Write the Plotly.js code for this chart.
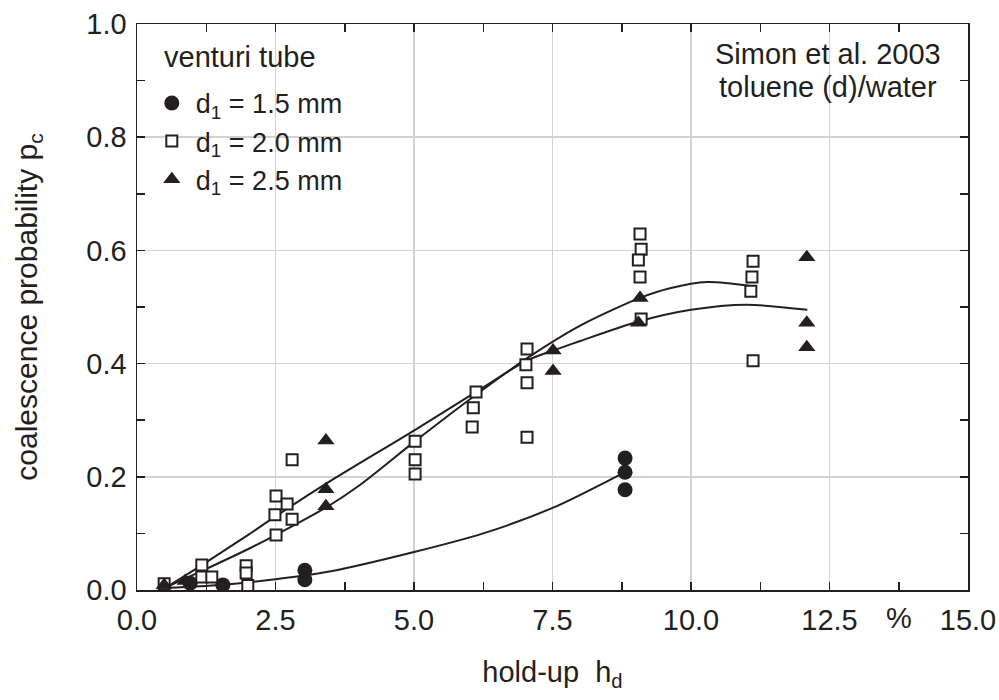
<!DOCTYPE html>
<html>
<head>
<meta charset="utf-8">
<script src="https://cdn.plot.ly/plotly-3.0.1.min.js"></script>
<style>html,body{margin:0;padding:0;background:#fff;}#chart{width:999px;height:700px;}</style>
</head>
<body>
<div id="chart"></div>
<script>
// ---- data ----
const circleX = [0.96, 1.55, 3.03, 3.03, 8.81, 8.81, 8.81];
const circleY = [0.012, 0.009, 0.035, 0.018, 0.233, 0.208, 0.177];

const squareX = [0.49, 1.17, 1.17, 1.35, 1.97, 1.97, 2.0, 2.51, 2.71, 2.49, 2.80, 2.51, 2.80,
                 5.02, 5.02, 5.02, 6.12, 6.07, 6.05, 7.04, 7.02, 7.04, 7.04,
                 9.08, 9.10, 9.05, 9.08, 9.10, 11.12, 11.10, 11.08, 11.12];
const squareY = [0.011, 0.044, 0.023, 0.023, 0.043, 0.030, 0.008, 0.166, 0.152, 0.133, 0.125, 0.097, 0.230,
                 0.263, 0.230, 0.205, 0.350, 0.322, 0.288, 0.426, 0.398, 0.366, 0.270,
                 0.629, 0.602, 0.583, 0.553, 0.479, 0.581, 0.553, 0.528, 0.405];

const triX = [0.49, 0.87, 3.41, 3.41, 3.41, 7.51, 7.51, 9.08, 9.05, 12.09, 12.09, 12.09];
const triY = [0.009, 0.016, 0.264, 0.178, 0.148, 0.423, 0.387, 0.516, 0.472, 0.588, 0.472, 0.429];

// fitted curves
const fit15X = [0.55, 1.5, 2.5, 3.5, 5.0, 6.25, 7.5, 8.8];
const fit15Y = [0.004, 0.009, 0.019, 0.033, 0.067, 0.100, 0.145, 0.208];

const fit20X = [0.55, 1.2, 2.0, 2.5, 3.45, 4.03, 5.02, 6.12, 7.05, 8.0, 9.08, 9.62, 10.29, 11.07];
const fit20Y = [0.006, 0.035, 0.072, 0.097, 0.148, 0.186, 0.263, 0.345, 0.410, 0.467, 0.516, 0.533, 0.544, 0.537];

const fit25X = [0.55, 1.17, 2.0, 2.5, 3.45, 5.02, 6.12, 7.05, 7.51, 8.0, 9.04, 10.0, 11.0, 12.1];
const fit25Y = [0.006, 0.044, 0.097, 0.130, 0.190, 0.283, 0.350, 0.406, 0.423, 0.440, 0.474, 0.495, 0.504, 0.495];

const xTickVals = [0, 2.5, 5, 7.5, 10, 12.5, 15];
const xTickText = ['0.0', '2.5', '5.0', '7.5', '10.0', '12.5', '15.0'];
const xMinorVals = [1.25, 3.75, 6.25, 8.75, 11.25, 13.75];
const yTickVals = [0, 0.2, 0.4, 0.6, 0.8, 1.0];
const yTickText = ['0.0', '0.2', '0.4', '0.6', '0.8', '1.0'];
const yMinorVals = [0.1, 0.3, 0.5, 0.7, 0.9];

const legendTitle = 'venturi tube';
const legendNames = ['d<sub>1</sub> = 1.5 mm', 'd<sub>1</sub> = 2.0 mm', 'd<sub>1</sub> = 2.5 mm'];

// ---- styling ----
const INK = '#231f20';
const FONT = 'Arial, "Liberation Sans", sans-serif';
const FS = 29;

const lineStyle = {color: INK, width: 2, shape: 'spline', smoothing: 0.8};
const traces = [
  {x: fit15X, y: fit15Y, mode: 'lines', line: lineStyle, showlegend: false, hoverinfo: 'skip'},
  {x: fit20X, y: fit20Y, mode: 'lines', line: lineStyle, showlegend: false, hoverinfo: 'skip'},
  {x: fit25X, y: fit25Y, mode: 'lines', line: lineStyle, showlegend: false, hoverinfo: 'skip'},
  {x: circleX, y: circleY, mode: 'markers', name: legendNames[0], legendgroup: 'a',
   marker: {symbol: 'circle', size: 15, color: INK, line: {width: 0}}},
  {x: squareX, y: squareY, mode: 'markers', name: legendNames[1], legendgroup: 'b',
   marker: {symbol: 'square', size: 11, color: '#ffffff', line: {color: INK, width: 2}}},
  {x: triX, y: triY, mode: 'markers', name: legendNames[2], legendgroup: 'c',
   marker: {symbol: 'triangle-up', size: 15, color: INK, line: {width: 0}}}
];

const axisCommon = {
  showline: true, linecolor: INK, linewidth: 1.5, mirror: 'ticks',
  ticks: 'inside', ticklen: 8, tickwidth: 1.5, tickcolor: INK,
  showgrid: true, gridcolor: '#d2d2d2', gridwidth: 1.5, zeroline: false,
  tickfont: {family: FONT, size: FS, color: INK}
};

const layout = {
  width: 999, height: 700,
  margin: {l: 137, r: 31, t: 24, b: 110},
  paper_bgcolor: '#ffffff', plot_bgcolor: '#ffffff',
  font: {family: FONT, size: FS, color: INK},
  xaxis: Object.assign({}, axisCommon, {
    range: [0, 15], tickmode: 'array', tickvals: xTickVals, ticktext: xTickText,
    ticklabelstandoff: 4,
    minor: {tickmode: 'array', tickvals: xMinorVals, ticks: 'inside', ticklen: 8, tickwidth: 1.5, tickcolor: INK, showgrid: false},
    title: {text: 'hold-up\u00a0\u00a0h<sub>d</sub>', font: {family: FONT, size: FS, color: INK}, standoff: 26}
  }),
  yaxis: Object.assign({}, axisCommon, {
    range: [0, 1], tickmode: 'array', tickvals: yTickVals, ticktext: yTickText,
    ticklabelstandoff: 3,
    minor: {tickmode: 'array', tickvals: yMinorVals, ticks: 'inside', ticklen: 8, tickwidth: 1.5, tickcolor: INK, showgrid: false},
    title: {text: 'coalescence probability p<sub>c</sub>', font: {family: FONT, size: 30, color: INK}, standoff: 40}
  }),
  shapes: [
    {type: 'rect', xref: 'paper', yref: 'paper', x0: 0, x1: 0.284, y0: 0.698, y1: 1,
     fillcolor: '#ffffff', line: {width: 0}, layer: 'between'},
    {type: 'rect', xref: 'paper', yref: 'paper', x0: 0.683, x1: 1, y0: 0.843, y1: 1,
     fillcolor: '#ffffff', line: {width: 0}, layer: 'between'}
  ],
  legend: {
    x: 0.013, y: 0.903, xanchor: 'left', yanchor: 'top',
    bgcolor: 'rgba(0,0,0,0)', borderwidth: 0,
    font: {family: FONT, size: 27, color: INK},
    traceorder: 'grouped', tracegroupgap: 0, itemsizing: 'trace', itemwidth: 38
  },
  annotations: [
    {xref: 'paper', yref: 'paper', x: 0.030, y: 0.9417, xanchor: 'left', yanchor: 'middle', showarrow: false,
     text: legendTitle, font: {family: FONT, size: FS, color: INK}},
    {xref: 'x', yref: 'paper', x: 13.75, y: 0, yanchor: 'top', yshift: -10, showarrow: false,
     text: '%', font: {family: FONT, size: FS, color: INK}},
    {xref: 'paper', yref: 'paper', x: 0.8315, y: 0.947, xanchor: 'center', yanchor: 'middle', showarrow: false,
     text: 'Simon et al. 2003', font: {family: FONT, size: FS, color: INK}},
    {xref: 'paper', yref: 'paper', x: 0.8315, y: 0.889, xanchor: 'center', yanchor: 'middle', showarrow: false,
     text: 'toluene (d)/water', font: {family: FONT, size: FS, color: INK}}
  ],
  showlegend: true
};

Plotly.newPlot('chart', traces, layout, {displayModeBar: false, staticPlot: true});
</script>
</body>
</html>
